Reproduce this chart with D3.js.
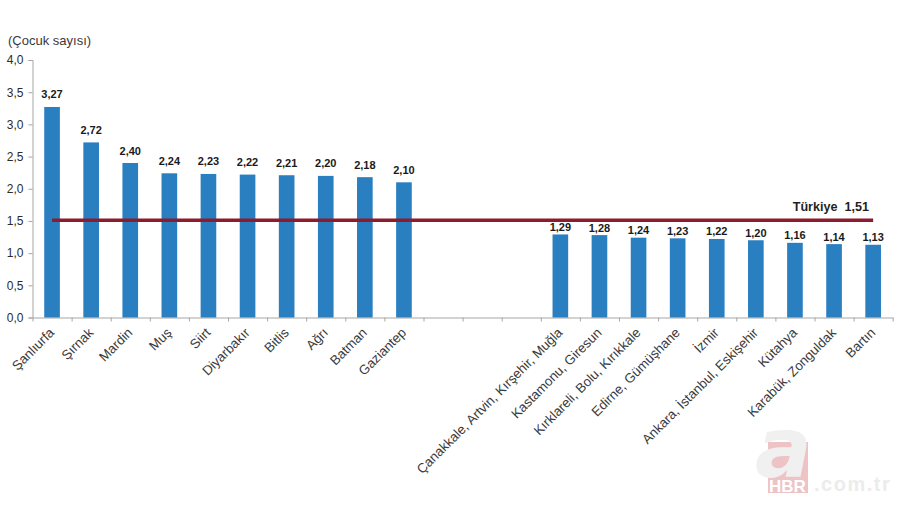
<!DOCTYPE html>
<html>
<head>
<meta charset="utf-8">
<script src="https://d3js.org/d3.v7.min.js"></script>
<style>
    html, body { margin: 0; padding: 0; background: #fff; }
    text { font-family: "Liberation Sans", Arial, sans-serif; }
</style>
</head>
<body>
<div id="chart"></div>
<script>
// values, blanks are the gap between the two groups
var categories = ["Şanlıurfa", "Şırnak", "Mardin", "Muş", "Siirt", "Diyarbakır", "Bitlis", "Ağrı", "Batman", "Gaziantep",
    "", "", "",
    "Çanakkale, Artvin, Kırşehir, Muğla", "Kastamonu, Giresun", "Kırklareli, Bolu, Kırıkkale", "Edirne, Gümüşhane", "İzmir",
    "Ankara, İstanbul, Eskişehir", "Kütahya", "Karabük, Zonguldak", "Bartın"];
var values = [3.27, 2.72, 2.40, 2.24, 2.23, 2.22, 2.21, 2.20, 2.18, 2.10,
    null, null, null,
    1.29, 1.28, 1.24, 1.23, 1.22, 1.20, 1.16, 1.14, 1.13];
var turkeyValue = 1.51;
var yTicks = [0, 0.5, 1, 1.5, 2, 2.5, 3, 3.5, 4];

var width = 900, height = 506;
var left = 32.5, right = 892.7, top_ = 60, bottom = 317.5;
var comma = function (n, digits) { return n.toFixed(digits).replace(".", ","); };

var svg = d3.select("#chart").append("svg")
    .attr("width", width)
    .attr("height", height)
    .style("display", "block");

var indexes = categories.map(function (d, i) { return i; });
var x = d3.scaleBand().domain(indexes).range([left, right]).paddingInner(0.6).paddingOuter(0.3);
var xEdges = d3.scaleLinear().domain([0, categories.length]).range([left, right]);
var y = d3.scaleLinear().domain([0, 4]).range([bottom, top_]);

// watermark goes under everything
var mark = svg.append("g");
mark.append("rect").attr("x", 768).attr("y", 442).attr("width", 40).attr("height", 51).attr("fill", "#eec3c6");
mark.append("text").attr("x", 755).attr("y", 477)
    .style("font-family", "'DejaVu Sans', sans-serif").style("font-weight", "bold").style("font-style", "italic")
    .style("font-size", "84px").style("fill", "#f0f0f0").text("a");
mark.append("text").attr("x", 769).attr("y", 492)
    .style("font-weight", "bold").style("font-size", "17px").style("fill", "#ffffff").text("HBR");
mark.append("text").attr("x", 814).attr("y", 491)
    .style("font-weight", "bold").style("font-size", "20px").style("letter-spacing", "1.5px").style("fill", "#ececec").text(".com.tr");

// y axis
var yAxis = svg.append("g")
    .attr("transform", "translate(" + left + ",0)")
    .call(d3.axisLeft(y).tickValues(yTicks).tickSize(4).tickSizeOuter(4).tickFormat(function (d) { return comma(d, 1); }));
yAxis.selectAll("path, line").attr("stroke", "#a6a6a6");
yAxis.selectAll("text").attr("x", -9).style("font-size", "12px").style("font-family", "'Liberation Sans'").style("fill", "#2b2b2b");

// x axis ticks sit on the category edges
var xAxis = svg.append("g")
    .attr("transform", "translate(0," + bottom + ")")
    .call(d3.axisBottom(xEdges).ticks(categories.length).tickSize(4).tickSizeOuter(0).tickFormat(""));
xAxis.selectAll("path, line").attr("stroke", "#a6a6a6");

// bars
var data = indexes.filter(function (i) { return values[i] !== null; });
svg.selectAll("rect.bar")
    .data(data)
    .enter().append("rect")
    .attr("class", "bar")
    .attr("x", function (i) { return x(i); })
    .attr("y", function (i) { return y(values[i]); })
    .attr("width", x.bandwidth())
    .attr("height", function (i) { return bottom - y(values[i]); })
    .attr("fill", "#2a7fc1");

// value labels, right group sits closer to its bars
svg.selectAll("text.value")
    .data(data)
    .enter().append("text")
    .attr("class", "value")
    .attr("x", function (i) { return x(i) + x.bandwidth() / 2; })
    .attr("y", function (i) { return y(values[i]) - (i < 10 ? 8.5 : 3.5); })
    .attr("text-anchor", "middle")
    .style("font-size", "11px")
    .style("font-weight", "bold")
    .style("fill", "#1a1a1a")
    .text(function (i) { return comma(values[i], 2); });

// category labels
svg.selectAll("text.cat")
    .data(data)
    .enter().append("text")
    .attr("class", "cat")
    .attr("transform", function (i) {
        return "translate(" + (x(i) + x.bandwidth() / 2 + 3) + "," + (bottom + 16) + ") rotate(-45)";
    })
    .attr("text-anchor", "end")
    .style("font-size", "13.3px")
    .style("fill", "#3a3a3a")
    .text(function (i) { return categories[i]; });

// Türkiye line from first to last category
var line = d3.line()
    .x(function (d) { return x(d) + x.bandwidth() / 2; })
    .y(function () { return y(turkeyValue); });
svg.append("path")
    .datum([indexes[0], indexes[indexes.length - 1]])
    .attr("d", line)
    .attr("fill", "none")
    .attr("stroke", "#8c1c2c")
    .attr("stroke-width", 3.5);

svg.append("text")
    .attr("x", 869).attr("y", 211)
    .attr("text-anchor", "end")
    .style("font-size", "12.6px")
    .style("font-weight", "bold")
    .style("fill", "#1f1f1f")
    .style("white-space", "pre")
    .text("Türkiye  " + comma(turkeyValue, 2));

svg.append("text")
    .attr("x", 8).attr("y", 45)
    .style("font-size", "13px")
    .style("fill", "#3a3a3a")
    .text("(Çocuk sayısı)");
</script>
</body>
</html>
